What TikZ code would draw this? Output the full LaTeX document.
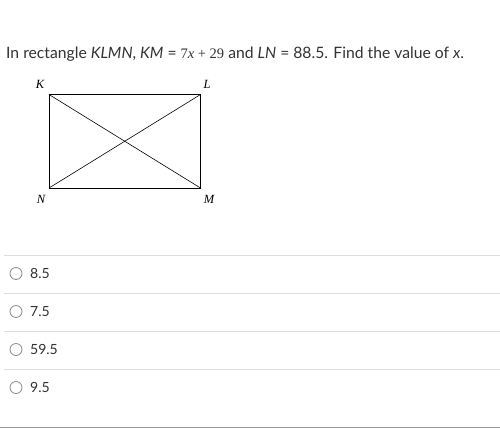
\documentclass[tikz,border=0pt]{standalone}
\usepackage{fontspec}
\setmainfont{Lato}
\newfontfamily\mathserif{Liberation Serif}
\usetikzlibrary{positioning}

\definecolor{txtgray}{HTML}{333333}
\definecolor{sepgray}{HTML}{DDDDDD}
\definecolor{radiogray}{HTML}{888888}

\tikzset{
  vlabel/.style={font=\mathserif\fontsize{12.5}{14}\selectfont\itshape, inner sep=0pt},
  answer/.style={font=\fontsize{14}{16}\selectfont, text=txtgray, anchor=west, inner sep=0pt},
  radio/.style={draw=radiogray, line width=0.8pt}
}

\begin{document}
\begin{tikzpicture}[x=1pt,y=-1pt]
  \useasboundingbox[fill=white] (0,0) rectangle (500,429);

  % question
  \node[anchor=base west, inner sep=0pt, text=txtgray, font=\fontsize{15.7}{18}\selectfont] (question) at (6,58)
    {In rectangle \textit{KLMN}, \textit{KM} = {\mathserif\fontsize{14.5}{16}\selectfont 7\textit{x} + 29} and \textit{LN} = 88.5. Find the value of \textit{x}.};

  % rectangle KLMN
  \coordinate (K) at (49,94.5);
  \coordinate (L) at (200.5,94.5);
  \coordinate (M) at (200.5,188);
  \coordinate (N) at (49,188);
  \draw[line width=0.9pt] (K) -- (L) -- (M) -- (N) -- cycle;
  \draw[line width=0.6pt] (K) -- (M);
  \draw[line width=0.6pt] (N) -- (L);
  \node[vlabel] (lK) at (40,84) {K};
  \node[vlabel] (lL) at (207,84) {L};
  \node[vlabel] (lM) at (209,199) {M};
  \node[vlabel] (lN) at (41,199) {N};

  % choices
  \foreach \y/\v [count=\i] in {273.5/8.5, 311.5/7.5, 349.5/59.5, 387.5/9.5}{
    \draw[sepgray, line width=0.8pt] (4,\y-18) -- (500,\y-18);
    \draw[radio] (16,\y) circle (6);
    \node[answer] (ans\i) at (30,\y) {\v};
  }
  \draw[gray!80, line width=1pt] (0,427.5) -- (500,427.5);
\end{tikzpicture}
\end{document}
